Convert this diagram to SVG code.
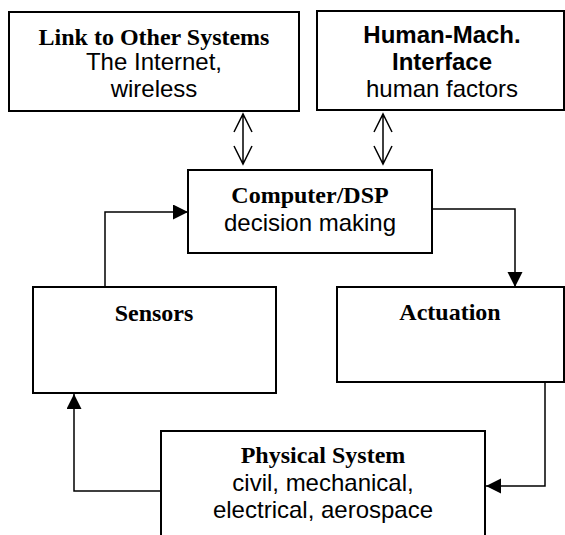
<svg xmlns="http://www.w3.org/2000/svg" width="565" height="535" viewBox="0 0 565 535">
<defs>
<style>
.box{fill:#fff;stroke:#000;stroke-width:2}
.tb{font-family:"Liberation Serif","Times New Roman",serif;font-weight:bold;font-size:24px;text-anchor:middle;fill:#000}
.ts{font-family:"Liberation Sans",Arial,sans-serif;font-size:24px;text-anchor:middle;fill:#000}
.tsb{font-family:"Liberation Sans",Arial,sans-serif;font-weight:bold;font-size:24px;text-anchor:middle;fill:#000}
.con{fill:none;stroke:#000;stroke-width:1.5}
</style>
<marker id="ah" markerUnits="userSpaceOnUse" markerWidth="16" markerHeight="16" refX="15" refY="7.5" orient="auto" viewBox="0 0 16 16">
<path d="M0,0 L15,7.5 L0,15 z" fill="#000"/>
</marker>
</defs>
<g id="link">
<rect class="box" x="9" y="12" width="290" height="99"/>
<text class="tb" x="154" y="45">Link to Other Systems</text>
<text class="ts" x="154" y="70">The Internet,</text>
<text class="ts" x="154" y="97">wireless</text>
</g>
<g id="human">
<rect class="box" x="317" y="11" width="247" height="99"/>
<text class="tsb" x="442" y="43">Human-Mach.</text>
<text class="tsb" x="442" y="70">Interface</text>
<text class="ts" x="442" y="97">human factors</text>
</g>
<g id="computer">
<rect class="box" x="188" y="170" width="244" height="83"/>
<text class="tb" x="310" y="203">Computer/DSP</text>
<text class="ts" x="310" y="231">decision making</text>
</g>
<g id="sensors">
<rect class="box" x="33" y="287" width="243" height="106"/>
<text class="tb" x="154" y="321">Sensors</text>
</g>
<g id="actuation">
<rect class="box" x="337" y="287" width="227" height="95"/>
<text class="tb" x="450" y="320">Actuation</text>
</g>
<g id="physical">
<rect class="box" x="161" y="431" width="324" height="120"/>
<text class="tb" x="323" y="463">Physical System</text>
<text class="ts" x="323" y="491">civil, mechanical,</text>
<text class="ts" x="323" y="518">electrical, aerospace</text>
</g>
<g id="connectors">
<path class="con" d="M243,114 V164 M234,132 L243,114 L252,132 M234,146 L243,164 L252,146"/>
<path class="con" d="M383,114 V164 M374,132 L383,114 L392,132 M374,146 L383,164 L392,146"/>
<path class="con" d="M105,287 V212 H188" marker-end="url(#ah)"/>
<path class="con" d="M432,209 H515 V287" marker-end="url(#ah)"/>
<path class="con" d="M545,382 V486 H486" marker-end="url(#ah)"/>
<path class="con" d="M161,491 H74 V394" marker-end="url(#ah)"/>
</g>
</svg>
